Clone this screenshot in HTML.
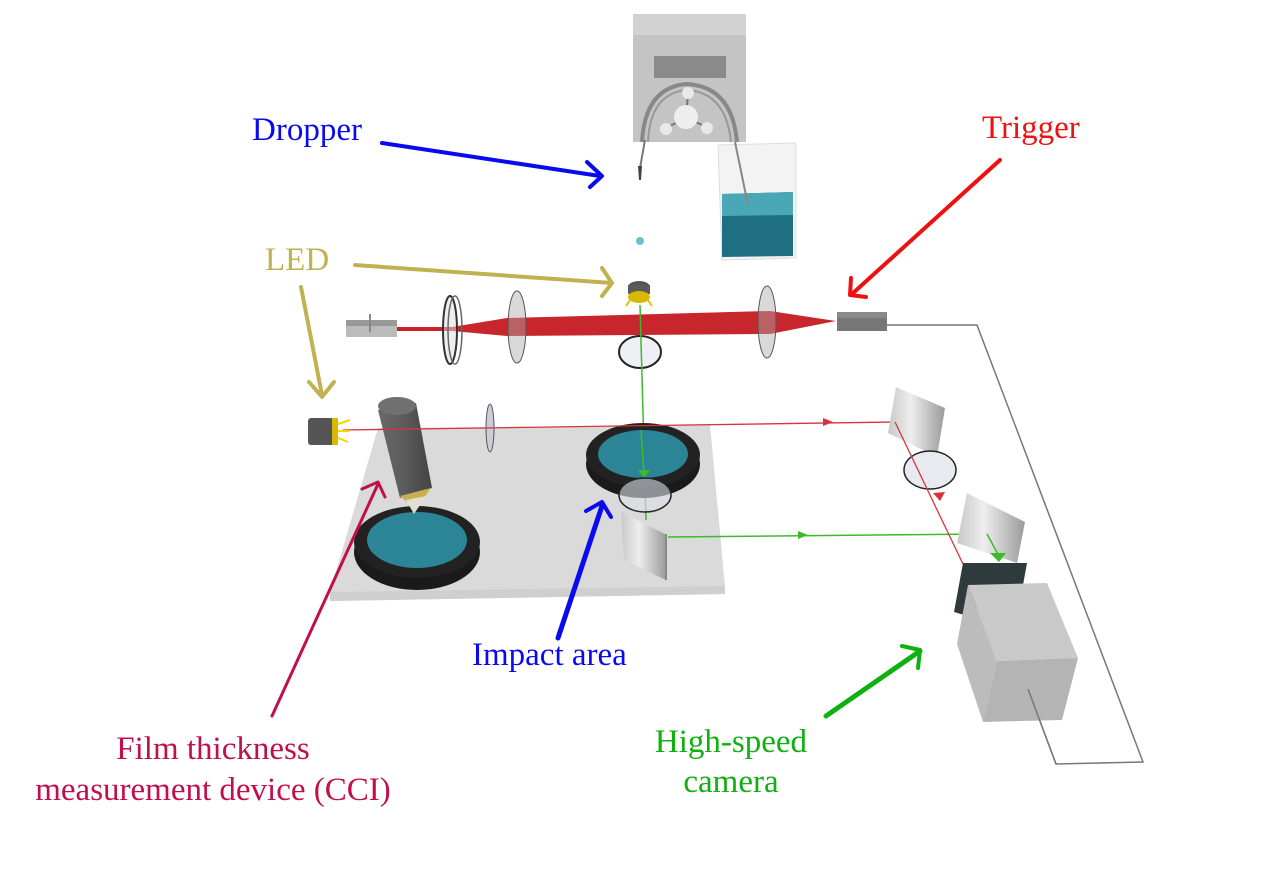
<!DOCTYPE html>
<html><head><meta charset="utf-8"><style>
html,body{margin:0;padding:0;background:#fff;}
svg{display:block;}
text{font-family:"Liberation Serif",serif;}
</style></head><body>
<svg width="1277" height="877" viewBox="0 0 1277 877" xmlns="http://www.w3.org/2000/svg">
<defs>
<linearGradient id="mg" x1="0" x2="1" y1="0" y2="0"><stop offset="0" stop-color="#c8c8c8"/><stop offset="0.4" stop-color="#eeeeee"/><stop offset="1" stop-color="#9a9a9a"/></linearGradient>
<linearGradient id="cyl" x1="0" x2="1"><stop offset="0" stop-color="#6a6a6a"/><stop offset="0.5" stop-color="#5a5a5a"/><stop offset="1" stop-color="#444"/></linearGradient>
</defs>
<!-- pump -->
<polygon points="633,14 746,14 746,142 633,142" fill="#c4c4c4"/>
<polygon points="633,14 746,14 746,35 633,35" fill="#d2d2d2"/>
<rect x="654" y="56" width="72" height="22" fill="#8a8a8a"/>
<path d="M642,142 Q645,88 686,84 Q732,86 737,142" fill="none" stroke="#888" stroke-width="4"/>
<path d="M648,142 Q650,94 686,90 Q726,92 731,142" fill="none" stroke="#999" stroke-width="2"/>
<line x1="686" y1="118" x2="688" y2="94" stroke="#777" stroke-width="2"/>
<line x1="686" y1="118" x2="666" y2="128" stroke="#777" stroke-width="2"/>
<line x1="686" y1="118" x2="707" y2="127" stroke="#777" stroke-width="2"/>
<circle cx="686" cy="117" r="12" fill="#eee"/>
<circle cx="688" cy="93" r="6" fill="#e8e8e8"/>
<circle cx="666" cy="129" r="6" fill="#e8e8e8"/>
<circle cx="707" cy="128" r="6" fill="#e8e8e8"/>
<path d="M645,140 L640,168" stroke="#777" stroke-width="2" fill="none"/>
<polygon points="638,166 642,166 641,180 639,180" fill="#444"/>
<!-- beaker -->
<polygon points="718,145 796,143 796,258 722,260" fill="#f3f3f3" stroke="#ddd"/>
<polygon points="722,194 793,192 793,256 722,257" fill="#1f6f82"/>
<polygon points="722,194 793,192 793,215 722,216" fill="#4aa7b6"/>
<path d="M735,142 L748,205" stroke="#888" stroke-width="2"/>
<circle cx="640" cy="241" r="4" fill="#6ec0cc"/>
<!-- LED top -->
<ellipse cx="639" cy="287" rx="11" ry="6" fill="#555"/>
<rect x="628" y="285" width="22" height="9" fill="#5a5a5a"/>
<ellipse cx="639" cy="297" rx="11" ry="6" fill="#d8b800"/>
<path d="M630,300 L626,306 M648,300 L652,306" stroke="#e0c200" stroke-width="2"/>
<!-- laser -->
<rect x="346" y="320" width="51" height="17" fill="#bbb"/>
<rect x="346" y="320" width="51" height="6" fill="#999"/>
<line x1="370" y1="314" x2="370" y2="332" stroke="#888" stroke-width="2"/>
<rect x="397" y="327" width="56" height="4" fill="#c8232b"/>
<polygon points="452,327 452,331 507,336 770,334 836,321 770,311 507,318" fill="#c8262d"/>
<!-- lenses top -->
<ellipse cx="450" cy="330" rx="7" ry="34" fill="#ddd" fill-opacity="0.5" stroke="#333" stroke-width="2"/>
<ellipse cx="455" cy="330" rx="7" ry="34" fill="none" stroke="#666" stroke-width="1.5"/>
<ellipse cx="517" cy="327" rx="9" ry="36" fill="#aaa" fill-opacity="0.45" stroke="#555"/>
<ellipse cx="767" cy="322" rx="9" ry="36" fill="#aaa" fill-opacity="0.45" stroke="#555"/>
<ellipse cx="640" cy="352" rx="21" ry="16" fill="#eef0f6" stroke="#222" stroke-width="2"/>
<!-- trigger -->
<rect x="837" y="312" width="50" height="19" fill="#777"/>
<rect x="837" y="312" width="50" height="6" fill="#8a8a8a"/>
<!-- wire -->
<polyline points="887,325 977,325 1143,762 1056,764 1028,689" fill="none" stroke="#777" stroke-width="1.5"/>
<!-- plate -->
<polygon points="330,592 378,428 710,425 725,586 725,594 330,601" fill="#dadada"/>
<polygon points="330,592 725,586 725,594 330,601" fill="#cfcfcf"/>
<!-- green vertical -->
<line x1="640" y1="305" x2="646" y2="520" stroke="#3cba2a" stroke-width="1.5"/>
<!-- right ring -->
<ellipse cx="643" cy="464" rx="57" ry="34" fill="#1a1a1a"/>
<ellipse cx="643" cy="455" rx="57" ry="32" fill="#222"/>
<ellipse cx="643" cy="454" rx="45" ry="24" fill="#2b8597"/>
<line x1="641" y1="430" x2="644" y2="476" stroke="#3cba2a" stroke-width="1.5"/>
<polygon points="638,470 650,470 644,478" fill="#3cba2a"/>
<ellipse cx="645" cy="495" rx="26" ry="17" fill="#dde0ea" fill-opacity="0.6" stroke="#222" stroke-width="1.5"/>
<!-- left ring -->
<ellipse cx="417" cy="552" rx="63" ry="38" fill="#1a1a1a"/>
<ellipse cx="417" cy="542" rx="63" ry="36" fill="#222"/>
<ellipse cx="417" cy="540" rx="50" ry="28" fill="#2b8597"/>
<!-- CCI -->
<polygon points="378,410 416,403 432,488 400,498" fill="url(#cyl)"/>
<ellipse cx="397" cy="406" rx="19" ry="9" fill="#707070"/>
<polygon points="400,496 431,488 416,510" fill="#c8b050"/>
<polygon points="406,500 426,496 414,514" fill="#e0e0d0"/>
<!-- small lens -->
<ellipse cx="490" cy="428" rx="4" ry="24" fill="#ccd" stroke="#555"/>
<!-- red lower beam -->
<line x1="343" y1="430" x2="895" y2="422" stroke="#d8343c" stroke-width="1.3"/>
<polygon points="823,418 833,422 823,426" fill="#d8343c"/>
<!-- LED left -->
<rect x="308" y="418" width="26" height="27" rx="3" fill="#555"/>
<rect x="332" y="418" width="6" height="27" fill="#d8b800"/>
<path d="M338,424 L350,420 M338,431 L350,431 M338,438 L348,442" stroke="#f0d800" stroke-width="2"/>
<!-- mirror near impact -->
<polygon points="621,512 665,534 666,580 624,560" fill="url(#mg)"/>
<line x1="666" y1="534" x2="666" y2="580" stroke="#888" stroke-width="2"/>
<line x1="668" y1="537" x2="987" y2="534" stroke="#3cba2a" stroke-width="1.5"/>
<polygon points="798,531 808,535 798,539" fill="#3cba2a"/>
<!-- right optics -->
<polygon points="896,387 945,408 937,457 888,433" fill="url(#mg)"/>
<ellipse cx="930" cy="470" rx="26" ry="19" fill="#e8eaf2" stroke="#222" stroke-width="1.5"/>
<line x1="895" y1="422" x2="963" y2="564" stroke="#d8343c" stroke-width="1.3"/>
<polygon points="933,493 945,492 940,501" fill="#d8343c"/>
<polygon points="967,493 1025,522 1017,563 957,543" fill="url(#mg)"/>
<polyline points="987,534 1000,558" fill="none" stroke="#3cba2a" stroke-width="1.5"/>
<polygon points="990,553 1006,553 999,562" fill="#3cba2a"/>
<polygon points="963,563 1027,563 1023,585 964,615 954,612" fill="#2f3a3d"/>
<!-- camera -->
<polygon points="968,585 1047,583 1078,658 997,661" fill="#c9c9c9"/>
<polygon points="968,585 997,661 983,722 957,644" fill="#bcbcbc"/>
<polygon points="997,661 1078,658 1062,720 983,722" fill="#b4b4b4"/>
<line x1="1028" y1="689" x2="1056" y2="764" stroke="#777" stroke-width="1.5"/>
<!-- annotation arrows -->
<g fill="none" stroke-linecap="round" stroke-linejoin="round">
<path d="M382,143 L600,176" stroke="#0a0af0" stroke-width="4"/>
<path d="M587,162 L602,176 L590,187" stroke="#0a0af0" stroke-width="4"/>
<path d="M355,265 L612,283" stroke="#c0b250" stroke-width="4"/>
<path d="M602,268 L612,283 L602,296" stroke="#c0b250" stroke-width="4"/>
<path d="M301,287 L322,395" stroke="#c0b250" stroke-width="4"/>
<path d="M309,382 L322,397 L334,382" stroke="#c0b250" stroke-width="4"/>
<path d="M1000,160 L852,294" stroke="#ee1111" stroke-width="4"/>
<path d="M851,278 L850,295 L866,297" stroke="#ee1111" stroke-width="4"/>
<path d="M272,716 L378,484" stroke="#c0104a" stroke-width="3"/>
<path d="M362,489 L378,482 L385,497" stroke="#c0104a" stroke-width="3"/>
<path d="M558,638 L602,506" stroke="#0a0af0" stroke-width="5"/>
<path d="M586,511 L602,502 L611,517" stroke="#0a0af0" stroke-width="4"/>
<path d="M826,716 L920,651" stroke="#10b010" stroke-width="5"/>
<path d="M902,646 L920,650 L918,668" stroke="#10b010" stroke-width="4"/>
</g>
<!-- labels -->
<text x="252" y="140" font-size="33" fill="#0a0af0">Dropper</text>
<text x="982" y="138" font-size="33" fill="#ee1111">Trigger</text>
<text x="265" y="270" font-size="33" fill="#c0b250">LED</text>
<text x="472" y="665" font-size="33" fill="#0a0af0">Impact area</text>
<text x="213" y="759" font-size="33" fill="#c0104a" text-anchor="middle">Film thickness</text>
<text x="213" y="800" font-size="33" fill="#c0104a" text-anchor="middle">measurement device (CCI)</text>
<text x="731" y="752" font-size="33" fill="#10b010" text-anchor="middle">High-speed</text>
<text x="731" y="792" font-size="33" fill="#10b010" text-anchor="middle">camera</text>
</svg>
</body></html>
